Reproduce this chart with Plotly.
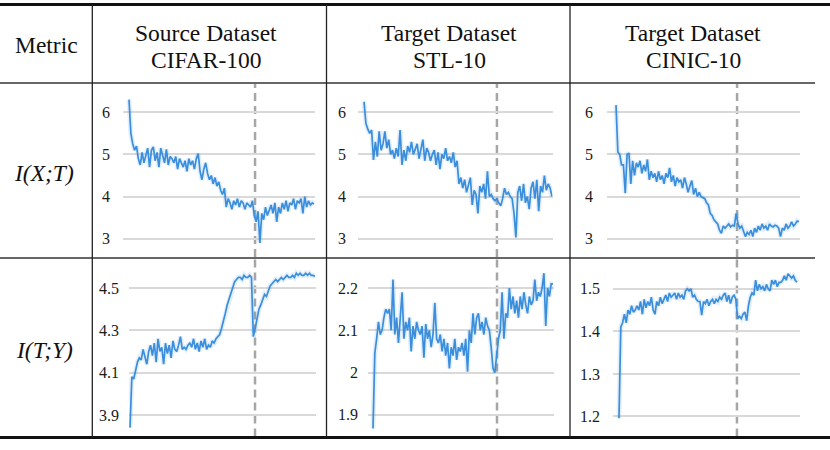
import plotly.graph_objects as go

W, H = 830, 450

# ---------------- data ----------------
epochs = list(range(100))

cifar100_ixt = [
    6.30, 5.50, 5.25, 5.10, 5.20, 4.90, 4.75, 5.05, 4.80, 4.95,
    5.15, 4.70, 5.10, 5.18, 4.85, 5.05, 4.70, 5.15, 4.95, 4.80,
    5.12, 4.75, 4.95, 4.90, 4.80, 4.95, 4.65, 4.90, 4.80, 4.70,
    4.85, 4.60, 4.90, 4.75, 4.85, 4.65, 4.90, 5.02, 4.60, 4.40,
    4.65, 4.80, 4.55, 4.40, 4.50, 4.30, 4.45, 4.25, 4.35, 4.15,
    4.05, 4.20, 3.75, 3.95, 3.85, 3.70, 3.90, 3.80, 3.95, 3.75,
    3.90, 3.85, 3.70, 3.85, 3.80, 3.75, 3.90, 3.55, 3.40, 3.65,
    2.90, 3.60, 3.45, 3.75, 3.55, 3.70, 3.80, 3.60, 3.85, 3.40,
    3.75, 3.60, 3.85, 3.70, 3.90, 3.65, 3.85, 3.80, 3.95, 3.70,
    3.90, 3.85, 3.95, 3.60, 4.00, 3.75, 3.90, 3.80, 3.85, 3.82,
]
cifar100_ity = [
    3.84, 4.08, 4.07, 4.12, 4.15, 4.17, 4.16, 4.21, 4.18, 4.14,
    4.20, 4.23, 4.18, 4.24, 4.15, 4.26, 4.20, 4.22, 4.14, 4.24,
    4.19, 4.23, 4.17, 4.25, 4.21, 4.20, 4.23, 4.27, 4.21, 4.22,
    4.21, 4.23, 4.24, 4.22, 4.26, 4.21, 4.24, 4.20, 4.25, 4.22,
    4.26, 4.21, 4.23, 4.22, 4.25, 4.24, 4.26, 4.27, 4.28, 4.31,
    4.34, 4.38, 4.42, 4.45, 4.48, 4.51, 4.53, 4.54, 4.55, 4.55,
    4.54, 4.56, 4.55, 4.55, 4.56, 4.55, 4.27, 4.31, 4.36, 4.40,
    4.42, 4.45, 4.47, 4.46, 4.49, 4.51, 4.52, 4.53, 4.54, 4.53,
    4.54, 4.55, 4.54, 4.55, 4.56, 4.55, 4.55, 4.56, 4.55, 4.57,
    4.56, 4.57, 4.56, 4.56, 4.57, 4.56, 4.57, 4.56, 4.56, 4.555,
]
stl10_ixt = [
    6.25, 5.74, 5.60, 5.50, 5.58, 4.87, 5.30, 4.95, 5.55, 5.10,
    5.25, 5.55, 5.15, 5.35, 5.00, 5.10, 4.90, 5.15, 4.95, 5.58,
    4.75, 5.10, 4.85, 5.20, 5.05, 5.30, 5.00, 5.15, 5.25, 4.90,
    5.10, 5.35, 4.85, 5.15, 5.05, 4.85, 5.00, 5.10, 4.75, 5.05,
    4.65, 5.00, 4.90, 5.15, 4.85, 4.95, 4.80, 5.05, 4.70, 4.85,
    4.30, 4.45, 4.20, 4.40, 4.10, 4.30, 4.45, 3.80, 4.15, 4.05,
    3.60, 4.25, 4.10, 4.30, 3.95, 4.60, 4.00, 4.05, 3.95, 3.90,
    3.95, 3.85, 3.78, 3.95, 4.20, 4.05, 4.10, 4.00, 3.95, 3.60,
    3.03, 4.10, 4.25, 3.90, 4.30, 3.85, 4.00, 3.70, 4.20, 4.35,
    3.95, 4.40, 3.65, 4.25, 4.10, 4.50, 4.15, 4.30, 4.20, 4.00,
]
stl10_ity = [
    1.868, 2.046, 2.08, 2.12, 2.09, 2.10, 2.13, 2.15, 2.14, 2.15,
    2.10, 2.22, 2.09, 2.13, 2.07, 2.14, 2.19, 2.08, 2.12, 2.10,
    2.13, 2.05, 2.11, 2.08, 2.12, 2.10, 2.09, 2.11, 2.035, 2.115,
    2.08, 2.10, 2.06, 2.09, 2.165, 2.08, 2.07, 2.09, 2.05, 2.08,
    2.04, 2.07, 2.01, 2.06, 2.04, 2.08, 2.03, 2.06, 2.05, 2.07,
    2.04, 2.08, 2.002, 2.10, 2.07, 2.14, 2.09, 2.13, 2.14, 2.10,
    2.12, 2.09, 2.13, 2.11, 2.10, 2.06, 2.01, 2.00, 2.05, 2.08,
    2.10, 2.19, 2.08, 2.14, 2.13, 2.20, 2.15, 2.18, 2.14, 2.17,
    2.13, 2.18, 2.15, 2.19, 2.16, 2.14, 2.18, 2.16, 2.17, 2.22,
    2.17, 2.19, 2.18, 2.20, 2.235, 2.11, 2.20, 2.18, 2.21, 2.21,
]
cinic10_ixt = [
    6.17, 5.06, 5.00, 4.75, 4.75, 4.08, 5.00, 5.03, 4.30, 4.85,
    4.50, 4.80, 4.70, 4.85, 4.55, 4.75, 4.60, 4.88, 4.40, 4.60,
    4.45, 4.55, 4.35, 4.60, 4.40, 4.50, 4.30, 4.55, 4.45, 4.68,
    4.35, 4.50, 4.25, 4.45, 4.35, 4.40, 4.20, 4.45, 4.30, 4.10,
    4.25, 4.38, 4.05, 4.20, 4.00, 4.10, 4.00, 3.98, 3.95, 3.85,
    3.80, 3.60, 3.55, 3.45, 3.40, 3.35, 3.20, 3.13, 3.30, 3.25,
    3.30, 3.35, 3.28, 3.32, 3.30, 3.60, 3.35, 3.25, 3.30, 3.15,
    3.05, 3.15, 3.10, 3.20, 3.05, 3.25, 3.15, 3.30, 3.20, 3.35,
    3.25, 3.30, 3.20, 3.35, 3.30, 3.28, 3.32, 3.30, 3.25, 3.05,
    3.25, 3.20, 3.35, 3.25, 3.30, 3.40, 3.30, 3.35, 3.42, 3.40,
]
cinic10_ity = [
    1.196, 1.41, 1.42, 1.44, 1.42, 1.45, 1.44, 1.46, 1.445, 1.45,
    1.46, 1.45, 1.47, 1.44, 1.475, 1.455, 1.47, 1.46, 1.48, 1.45,
    1.44, 1.47, 1.46, 1.48, 1.465, 1.475, 1.485, 1.47, 1.49, 1.48,
    1.485, 1.49, 1.475, 1.49, 1.48, 1.485, 1.475, 1.495, 1.50, 1.495,
    1.50, 1.48, 1.485, 1.475, 1.47, 1.47, 1.438, 1.47, 1.465, 1.475,
    1.46, 1.47, 1.475, 1.465, 1.475, 1.47, 1.48, 1.475, 1.485, 1.49,
    1.47, 1.485, 1.465, 1.48, 1.485, 1.475, 1.43, 1.435, 1.43, 1.44,
    1.445, 1.425, 1.46, 1.48, 1.49, 1.485, 1.52, 1.495, 1.51, 1.50,
    1.505, 1.495, 1.51, 1.50, 1.495, 1.52, 1.51, 1.52, 1.505, 1.515,
    1.515, 1.52, 1.53, 1.52, 1.535, 1.53, 1.525, 1.53, 1.52, 1.515,
]

ixt_ticks = [3, 4, 5, 6]
ixt_labels = ["3", "4", "5", "6"]
cifar_ity_ticks = [3.9, 4.1, 4.3, 4.5]
cifar_ity_labels = ["3.9", "4.1", "4.3", "4.5"]
stl_ity_ticks = [1.9, 2.0, 2.1, 2.2]
stl_ity_labels = ["1.9", "2", "2.1", "2.2"]
cinic_ity_ticks = [1.2, 1.3, 1.4, 1.5]
cinic_ity_labels = ["1.2", "1.3", "1.4", "1.5"]

# epoch where training switches (dashed line), per panel
switch_epoch = [67.4, 66.9, 70.0, 68.2, 65.5, 65.6]

header_metric = "Metric"
col_headers = [("Source Dataset", "CIFAR-100"),
               ("Target Dataset", "STL-10"),
               ("Target Dataset", "CINIC-10")]
row_labels = ["I(X;T)", "I(T;Y)"]

# ---------------- layout helpers ----------------
def px(x):
    return x / W

def py(y):
    return 1 - y / H

series = [cifar100_ixt, cifar100_ity, stl10_ixt, stl10_ity, cinic10_ixt, cinic10_ity]
ticks = [(ixt_ticks, ixt_labels), (cifar_ity_ticks, cifar_ity_labels),
         (ixt_ticks, ixt_labels), (stl_ity_ticks, stl_ity_labels),
         (ixt_ticks, ixt_labels), (cinic_ity_ticks, cinic_ity_labels)]

ROW_Y = [(88, 256), (262, 434)]
ROW_CELL = [(84, 257), (259, 436.5)]
# panel order: col1-row1, col1-row2, col2-row1, col2-row2, col3-row1, col3-row2
panels = [
    dict(row=0, xdom=(123, 314.5), xr=(-3.21, 99.2), yr=(2.589, 6.577), gap=12),
    dict(row=1, xdom=(129, 315.5), xr=(-0.535, 99.27), yr=(3.810, 4.623), gap=9),
    dict(row=0, xdom=(358, 552.5), xr=(-3.16, 99.26), yr=(2.589, 6.577), gap=11),
    dict(row=1, xdom=(368, 553.5), xr=(-2.75, 99.27), yr=(1.8548, 2.2615), gap=9),
    dict(row=0, xdom=(607, 800), xr=(-4.87, 99.54), yr=(2.589, 6.577), gap=13),
    dict(row=1, xdom=(613, 800), xr=(-3.34, 100.67), yr=(1.1589, 1.5627), gap=12),
]

LINE_COLOR = "#3a8edb"
BAND_COLOR = "rgba(58,142,219,0.14)"
GRID_COLOR = "#d9d9d9"
SERIF = "Liberation Serif, Tinos, Times New Roman, Times, DejaVu Serif, serif"

fig = go.Figure()
layout = dict(
    width=W, height=H,
    margin=dict(l=0, r=0, t=0, b=0),
    paper_bgcolor="white", plot_bgcolor="rgba(0,0,0,0)",
    showlegend=False,
    font=dict(family=SERIF, color="#111"),
)
shapes = []
annotations = []

for k, (p, ys, (tv, tt)) in enumerate(zip(panels, series, ticks)):
    n = k + 1
    xa = "x" if n == 1 else f"x{n}"
    ya = "y" if n == 1 else f"y{n}"
    xkey = "xaxis" if n == 1 else f"xaxis{n}"
    ykey = "yaxis" if n == 1 else f"yaxis{n}"
    ytop, ybot = ROW_Y[p["row"]]
    layout[xkey] = dict(
        domain=[px(p["xdom"][0]), px(p["xdom"][1])],
        range=list(p["xr"]), anchor=ya,
        showgrid=False, zeroline=False, showline=False,
        showticklabels=False, ticks="", fixedrange=True,
    )
    layout[ykey] = dict(
        domain=[py(ybot), py(ytop)],
        range=list(p["yr"]), anchor=xa,
        tickmode="array", tickvals=tv, ticktext=tt,
        showgrid=True, gridcolor=GRID_COLOR, gridwidth=1.5,
        zeroline=False, showline=False, ticks="",
        tickfont=dict(family=SERIF, size=16, color="#1a1a1a"),
        ticklabelstandoff=int(p["gap"]),
        fixedrange=True,
    )
    # faint spread band
    fig.add_trace(go.Scatter(
        x=epochs, y=ys, mode="lines", xaxis=xa, yaxis=ya,
        line=dict(color=BAND_COLOR, width=5), hoverinfo="skip",
    ))
    fig.add_trace(go.Scatter(
        x=epochs, y=ys, mode="lines", xaxis=xa, yaxis=ya,
        line=dict(color=LINE_COLOR, width=1.7),
    ))
    c0, c1 = ROW_CELL[p["row"]]
    shapes.append(dict(
        type="line", xref=xa, yref="paper",
        x0=switch_epoch[k], x1=switch_epoch[k], y0=py(c1), y1=py(c0),
        line=dict(color="#a6a6a6", width=2.5, dash="8px,5px"),
        layer="between",
    ))

# ---------------- table rules ----------------
def hline(y, x0, x1, w, color="#111"):
    shapes.append(dict(type="line", xref="paper", yref="paper",
                       x0=px(x0), x1=px(x1), y0=py(y), y1=py(y),
                       line=dict(color=color, width=w), layer="above"))

def vline(x, y0, y1, w, color="#111"):
    shapes.append(dict(type="line", xref="paper", yref="paper",
                       x0=px(x), x1=px(x), y0=py(y0), y1=py(y1),
                       line=dict(color=color, width=w), layer="above"))

hline(4.5, 0, 830, 3)
hline(83, 0, 815, 1.3, "#333")
hline(258, 0, 815, 1.3, "#333")
hline(437.5, 0, 830, 3)
for xv in (92.3, 326.5, 570):
    vline(xv, 4.5, 437.5, 1.3, "#222")

# ---------------- text ----------------
def text(s, x, y, size=23.5, italic=False):
    annotations.append(dict(
        text=s, x=px(x), y=py(y), xref="paper", yref="paper",
        showarrow=False, xanchor="center", yanchor="middle",
        font=dict(family=SERIF, size=size, color="#111",
                  style="italic" if italic else "normal"),
    ))

text(header_metric, 46.5, 44.5)
col_centers = [206, 449, 693]
for (l1, l2), cx in zip(col_headers, col_centers):
    text(l1, cx, 33.5)
    text(l2, cx, 60)
text(row_labels[0], 44, 173, italic=True)
text(row_labels[1], 44, 350, italic=True)

layout["shapes"] = shapes
layout["annotations"] = annotations
fig.update_layout(**layout)
fig.write_html(
    "out.html",
    config={"displayModeBar": False},
    post_script="document.body.style.margin='0';document.body.style.overflow='hidden';",
)
